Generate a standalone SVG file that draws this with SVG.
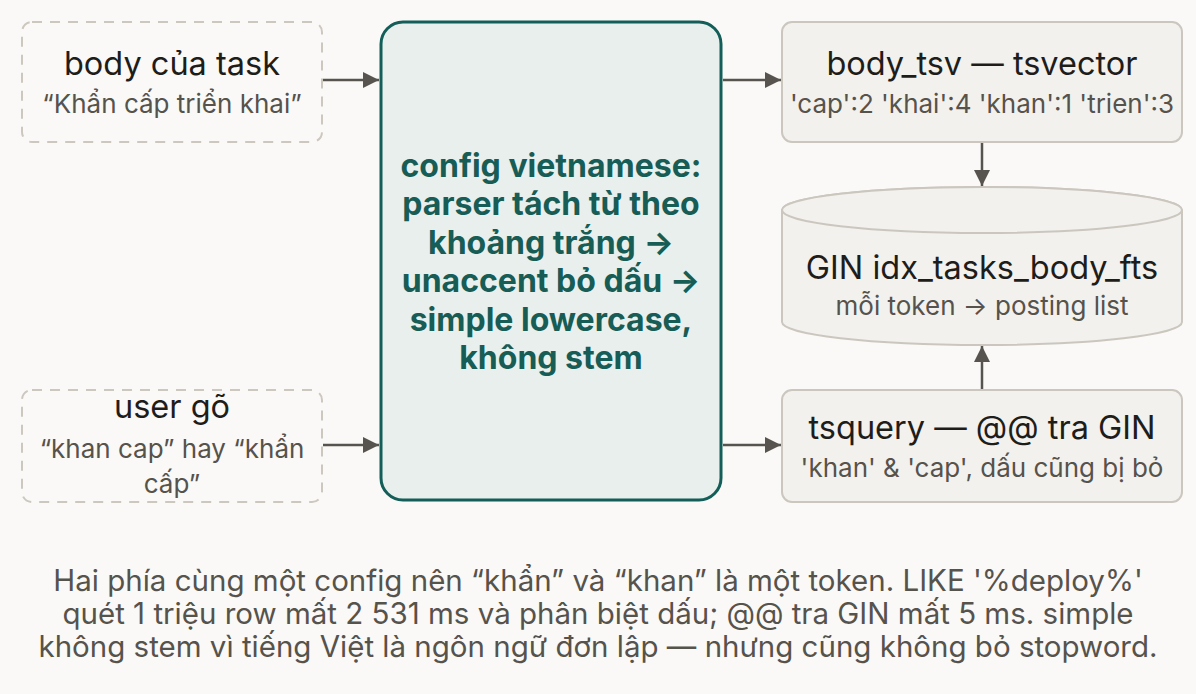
<svg xmlns="http://www.w3.org/2000/svg" width="1196" height="694" viewBox="0 0 1196 694">
<style>
text{font-family:Inter,"Noto Sans","Liberation Sans",sans-serif;text-anchor:middle}
.t{font-size:32.5px;fill:#1f1d1a}
.s{font-size:26px;fill:#56524c}
.c{font-size:32px;font-weight:700;fill:#175c55}
.cap{font-size:29.5px;fill:#56524c}
.dash{fill:none;stroke:#ccc7bf;stroke-width:2;stroke-dasharray:10 8}
.box{fill:#f2f1ee;stroke:#cbc7bf;stroke-width:2}
.conn{stroke:#57534e;stroke-width:2.5;fill:none}
</style>
<defs>
<marker id="ah" viewBox="0 0 10 10" refX="10" refY="5" markerWidth="6.5" markerHeight="6.5" markerUnits="strokeWidth" orient="auto"><path d="M0,0L10,5L0,10z" fill="#57534e"/></marker>
</defs>
<rect width="1196" height="694" fill="#faf9f7"/>
<g id="connectors">
<line class="conn" x1="323" y1="80" x2="379" y2="80" marker-end="url(#ah)"/>
<line class="conn" x1="323" y1="445" x2="379" y2="445" marker-end="url(#ah)"/>
<line class="conn" x1="723" y1="80" x2="781" y2="80" marker-end="url(#ah)"/>
<line class="conn" x1="723" y1="445" x2="781" y2="445" marker-end="url(#ah)"/>
<line class="conn" x1="982" y1="143" x2="982" y2="186" marker-end="url(#ah)"/>
<line class="conn" x1="982" y1="389" x2="982" y2="346" marker-end="url(#ah)"/>
</g>
<g id="body-task">
<rect class="dash" x="22" y="22" width="300" height="120" rx="10"/>
<text class="t" x="172" y="75">body của task</text>
<text class="s" x="172" y="113">“Khẩn cấp triển khai”</text>
</g>
<g id="user-go">
<rect class="dash" x="22" y="390" width="300" height="112" rx="10"/>
<text class="t" x="172" y="418">user gõ</text>
<text class="s" x="172" y="458">“khan cap” hay “khẩn</text>
<text class="s" x="172" y="493">cấp”</text>
</g>
<g id="config">
<rect x="381" y="22" width="340" height="478" rx="22" fill="#e8efed" stroke="#135e58" stroke-width="3"/>
<text class="c" x="551" y="177">config vietnamese:</text>
<text class="c" x="551" y="215">parser tách từ theo</text>
<text class="c" x="551" y="254">khoảng trắng →</text>
<text class="c" x="551" y="292">unaccent bỏ dấu →</text>
<text class="c" x="551" y="331">simple lowercase,</text>
<text class="c" x="551" y="369">không stem</text>
</g>
<g id="body-tsv">
<rect class="box" x="782" y="22" width="400" height="120" rx="10"/>
<text class="t" x="982" y="75">body_tsv — tsvector</text>
<text class="s" x="982" y="113">'cap':2 'khai':4 'khan':1 'trien':3</text>
</g>
<g id="gin">
<path class="box" d="M782,210 L782,322 A200,23 0 0 0 1182,322 L1182,210 A200,23 0 0 0 782,210 Z"/>
<ellipse cx="982" cy="210" rx="200" ry="23" fill="#f2f1ee" stroke="#cbc7bf" stroke-width="2"/>
<text class="t" x="982" y="279">GIN idx_tasks_body_fts</text>
<text class="s" x="982" y="315">mỗi token → posting list</text>
</g>
<g id="tsquery">
<rect class="box" x="782" y="390" width="400" height="112" rx="10"/>
<text class="t" x="982" y="439">tsquery — @@ tra GIN</text>
<text class="s" x="982" y="477">'khan' &amp; 'cap', dấu cũng bị bỏ</text>
</g>
<g id="caption">
<text class="cap" x="598" y="591">Hai phía cùng một config nên “khẩn” và “khan” là một token. LIKE '%deploy%'</text>
<text class="cap" x="598" y="624">quét 1 triệu row mất 2 531 ms và phân biệt dấu; @@ tra GIN mất 5 ms. simple</text>
<text class="cap" x="598" y="657">không stem vì tiếng Việt là ngôn ngữ đơn lập — nhưng cũng không bỏ stopword.</text>
</g>
</svg>
